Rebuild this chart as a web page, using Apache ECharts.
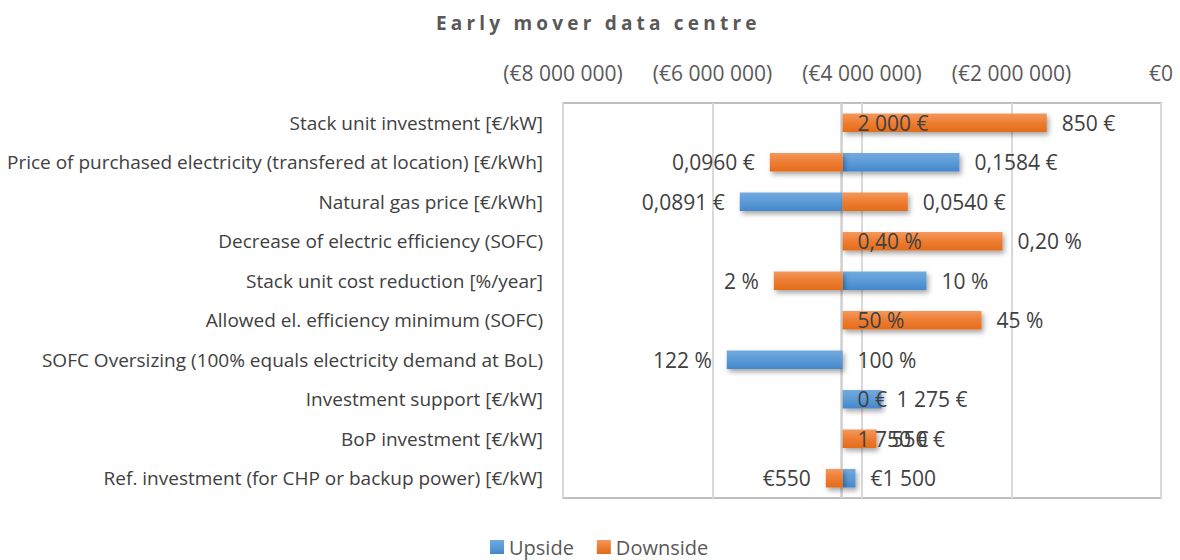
<!DOCTYPE html>
<html>
<head>
<meta charset="utf-8">
<title>Early mover data centre</title>
<script src="https://cdn.jsdelivr.net/npm/echarts@6/dist/echarts.min.js"></script>
<style>
  html, body { margin: 0; padding: 0; background: #fff; }
  #chart { width: 1180px; height: 560px; }
</style>
</head>
<body>
<div id="chart"></div>
<script>
// tornado chart, NPV in euro, bars start at the base case
const categories = [
  'Stack unit investment [€/kW]',
  'Price of purchased electricity (transfered at location) [€/kWh]',
  'Natural gas price [€/kWh]',
  'Decrease of electric efficiency (SOFC)',
  'Stack unit cost reduction [%/year]',
  'Allowed el. efficiency minimum (SOFC)',
  'SOFC Oversizing (100% equals electricity demand at BoL)',
  'Investment support [€/kW]',
  'BoP investment [€/kW]',
  'Ref. investment (for CHP or backup power) [€/kW]'
];
const baseValue = -4260000;
const upsideValues = [-4260000, -2696000, -5635000, -4260000, -3137000, -4260000, -5809000, -3739000, -4260000, -4087000];
const downsideValues = [-1528000, -5233000, -3387000, -2120000, -5180000, -2401000, -4260000, -4260000, -3806000, -4484000];
const upsideLabels = ['2 000 €', '0,1584 €', '0,0891 €', '0,40 %', '10 %', '50 %', '122 %', '1 275 €', '1 750 €', '€1 500'];
const downsideLabels = ['850 €', '0,0960 €', '0,0540 €', '0,20 %', '2 %', '45 %', '100 %', '0 €', '550 €', '€550'];
const axisMin = -8000000;
const axisMax = 0;
const axisStep = 2000000;

const chartTitle = 'Early mover data centre';
const chart = echarts.init(document.getElementById('chart'), null, { renderer: 'svg' });

function euro(v) {
  const s = String(Math.round(Math.abs(v))).replace(/\B(?=(\d{3})+(?!\d))/g, ' ');
  return v < 0 ? '(€' + s + ')' : '€' + s;
}

const blueFill = new echarts.graphic.LinearGradient(0, 0, 0, 1, [
  { offset: 0, color: '#72aadf' },
  { offset: 0.5, color: '#5b9bd5' },
  { offset: 1, color: '#4586cc' }
]);
const orangeFill = new echarts.graphic.LinearGradient(0, 0, 0, 1, [
  { offset: 0, color: '#f5985e' },
  { offset: 0.5, color: '#ed7d31' },
  { offset: 1, color: '#e46c1b' }
]);

function barRenderer(fill, labels, drawBase) {
  return function (params, api) {
    const idx = api.value(1);
    const v = api.value(0);
    const p0 = api.coord([baseValue, idx]);
    const p1 = api.coord([v, idx]);
    const barH = api.size([0, 1])[1] * 0.47;
    const children = [];
    if (drawBase && params.dataIndex === 0) {
      // vertical axis crosses at the base case
      const cs = params.coordSys;
      children.push({
        type: 'line',
        z2: -1,
        shape: { x1: p0[0] - 1, y1: cs.y, x2: p0[0] - 1, y2: cs.y + cs.height },
        style: { stroke: '#cfcfcf', lineWidth: 2.5 }
      });
    }
    const w = Math.abs(p1[0] - p0[0]);
    if (w > 0.5) {
      children.push({
        type: 'rect',
        shape: { x: Math.min(p0[0], p1[0]), y: p0[1] - barH / 2, width: w, height: barH },
        style: {
          fill: fill,
          shadowBlur: 5,
          shadowOffsetX: 2,
          shadowOffsetY: 3,
          shadowColor: 'rgba(0,0,0,0.35)'
        }
      });
    }
    const right = v >= baseValue;
    children.push({
      type: 'text',
      z2: 50,
      style: {
        text: labels[params.dataIndex],
        x: p1[0] + (right ? 15 : -15),
        y: p0[1],
        align: right ? 'left' : 'right',
        verticalAlign: 'middle',
        fill: '#404040',
        font: '21px "Open Sans"'
      }
    });
    return { type: 'group', children: children };
  };
}

chart.setOption({
  animation: false,
  textStyle: { fontFamily: 'Open Sans' },
  title: {
    text: chartTitle,
    left: 431,
    top: 8,
    textStyle: { fontSize: 19, fontWeight: 'bold', color: '#595959' }
  },
  legend: {
    left: 485,
    top: 532,
    itemWidth: 14,
    itemHeight: 14,
    itemGap: 23,
    icon: 'rect',
    textStyle: { fontSize: 20, color: '#595959' },
    data: ['Upside', 'Downside']
  },
  grid: {
    left: 563,
    right: 19,
    top: 103,
    height: 395,
    show: true,
    borderColor: '#ababab',
    borderWidth: 1.5
  },
  xAxis: {
    type: 'value',
    position: 'top',
    min: axisMin,
    max: axisMax,
    interval: axisStep,
    axisLine: { show: false },
    axisTick: { show: false },
    axisLabel: { margin: 20, fontSize: 21, color: '#595959', formatter: euro },
    splitLine: { lineStyle: { color: '#d9d9d9', width: 2 } }
  },
  yAxis: {
    type: 'category',
    inverse: true,
    data: categories,
    axisLine: { show: false },
    axisTick: { show: false },
    axisLabel: { margin: 20, fontSize: 19, color: '#404040' }
  },
  series: [
    {
      name: 'Upside',
      type: 'custom',
      itemStyle: { color: blueFill },
      encode: { x: 0, y: 1 },
      data: upsideValues.map((v, i) => [v, i]),
      renderItem: barRenderer(blueFill, upsideLabels, true)
    },
    {
      name: 'Downside',
      type: 'custom',
      itemStyle: { color: orangeFill },
      encode: { x: 0, y: 1 },
      data: downsideValues.map((v, i) => [v, i]),
      renderItem: barRenderer(orangeFill, downsideLabels, false)
    }
  ]
});

// the title is spaced out in the original
document.querySelectorAll('#chart text').forEach(function (t) {
  if (t.textContent === chartTitle) t.setAttribute('letter-spacing', '4.2');
});
</script>
</body>
</html>
